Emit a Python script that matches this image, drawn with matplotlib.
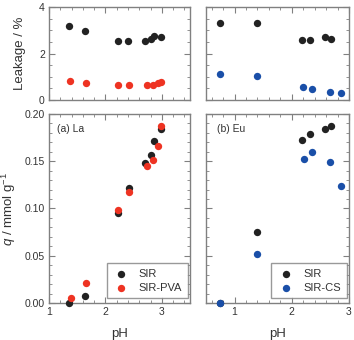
import matplotlib
matplotlib.use("Agg")
import matplotlib.pyplot as plt
from matplotlib.ticker import MultipleLocator

plt.rcParams['font.family'] = ['Liberation Sans', 'DejaVu Sans']
plt.rcParams['mathtext.fontset'] = 'custom'
plt.rcParams['mathtext.rm'] = 'Liberation Sans'
plt.rcParams['mathtext.it'] = 'Liberation Sans:italic'

# La leakage
la_sir_ph = [1.36, 1.64, 2.22, 2.40, 2.70, 2.80, 2.86, 2.99]
la_sir_leak = [3.18, 2.97, 2.54, 2.54, 2.54, 2.61, 2.77, 2.72]
la_pva_ph = [1.38, 1.65, 2.23, 2.42, 2.74, 2.85, 2.94, 2.98]
la_pva_leak = [0.83, 0.75, 0.65, 0.66, 0.65, 0.65, 0.72, 0.79]
# La q
la_sir_q_ph = [1.36, 1.64, 2.22, 2.41, 2.70, 2.80, 2.86, 2.99]
la_sir_q = [0.0, 0.0074, 0.0956, 0.122, 0.148, 0.157, 0.171, 0.184]
la_pva_q_ph = [1.39, 1.66, 2.23, 2.42, 2.74, 2.85, 2.94, 2.98]
la_pva_q = [0.005, 0.021, 0.098, 0.117, 0.145, 0.151, 0.166, 0.187]
# Eu leakage
eu_sir_ph = [0.75, 1.40, 2.17, 2.32, 2.58, 2.69]
eu_sir_leak = [3.30, 3.30, 2.58, 2.58, 2.71, 2.61]
eu_cs_ph = [0.75, 1.39, 2.20, 2.36, 2.66, 2.86]
eu_cs_leak = [1.10, 1.05, 0.55, 0.46, 0.33, 0.29]
# Eu q
eu_sir_q_ph = [0.75, 1.40, 2.18, 2.32, 2.58, 2.69]
eu_sir_q = [0.0, 0.0755, 0.172, 0.179, 0.184, 0.187]
eu_cs_q_ph = [0.75, 1.39, 2.21, 2.36, 2.66, 2.86]
eu_cs_q = [0.0, 0.052, 0.152, 0.160, 0.149, 0.124]

BLACK = '#222222'
RED = '#ee3322'
BLUE = '#1a4fa8'
SPINE = '#808080'
TXT = '#333333'

fig = plt.figure(figsize=(3.54, 3.40), dpi=100)
W, H = 354, 340
def ax_at(x0, y0, x1, y1):
    return fig.add_axes([x0 / W, 1 - y1 / H, (x1 - x0) / W, (y1 - y0) / H])

ax_tl = ax_at(49, 7, 190, 100)
ax_bl = ax_at(49, 114, 190, 303)
ax_tr = ax_at(206, 7, 349, 100)
ax_br = ax_at(206, 114, 349, 303)

ms = 28
for ax in (ax_tl, ax_bl, ax_tr, ax_br):
    for s in ax.spines.values():
        s.set_color(SPINE)
        s.set_linewidth(1.0)
    ax.tick_params(which='both', direction='in', top=True, right=True,
                   color=SPINE, labelsize=7.5, labelcolor=TXT, pad=3)
    ax.tick_params(which='major', length=4)
    ax.tick_params(which='minor', length=2)
    ax.xaxis.set_major_locator(MultipleLocator(1))
    ax.xaxis.set_minor_locator(MultipleLocator(0.2))

for ax in (ax_tl, ax_tr):
    ax.set_ylim(0, 4)
    ax.yaxis.set_major_locator(MultipleLocator(2))
    ax.yaxis.set_minor_locator(MultipleLocator(0.5))
    ax.tick_params(labelbottom=False)
for ax in (ax_bl, ax_br):
    ax.set_ylim(0, 0.20)
    ax.yaxis.set_major_locator(MultipleLocator(0.05))
    ax.yaxis.set_minor_locator(MultipleLocator(0.01))
for ax in (ax_tl, ax_bl):
    ax.set_xlim(1, 3.5)
for ax in (ax_tr, ax_br):
    ax.set_xlim(0.5, 3)
    ax.tick_params(labelleft=False)

ax_tl.yaxis.set_major_formatter(matplotlib.ticker.FormatStrFormatter('%d'))
ax_bl.yaxis.set_major_formatter(matplotlib.ticker.FormatStrFormatter('%.2f'))

ax_tl.scatter(la_sir_ph, la_sir_leak, s=ms, color=BLACK, zorder=3, clip_on=False, linewidths=0)
ax_tl.scatter(la_pva_ph, la_pva_leak, s=ms, color=RED, zorder=3, clip_on=False, linewidths=0)
ax_bl.scatter(la_sir_q_ph, la_sir_q, s=ms, color=BLACK, zorder=3, clip_on=False, linewidths=0, label='SIR')
ax_bl.scatter(la_pva_q_ph, la_pva_q, s=ms, color=RED, zorder=3, clip_on=False, linewidths=0, label='SIR-PVA')
ax_tr.scatter(eu_sir_ph, eu_sir_leak, s=ms, color=BLACK, zorder=3, clip_on=False, linewidths=0)
ax_tr.scatter(eu_cs_ph, eu_cs_leak, s=ms, color=BLUE, zorder=3, clip_on=False, linewidths=0)
ax_br.scatter(eu_sir_q_ph, eu_sir_q, s=ms, color=BLACK, zorder=3, clip_on=False, linewidths=0, label='SIR')
ax_br.scatter(eu_cs_q_ph, eu_cs_q, s=ms, color=BLUE, zorder=3, clip_on=False, linewidths=0, label='SIR-CS')

for ax in (ax_bl, ax_br):
    leg = ax.legend(loc='lower right', fontsize=8, frameon=True, fancybox=False,
                    edgecolor=SPINE, handletextpad=0.8, borderpad=0.5,
                    labelspacing=0.35, handlelength=1.6, scatterpoints=1,
                    bbox_to_anchor=(0.985, 0.025), borderaxespad=0.0)
    leg.get_frame().set_linewidth(1.0)
    for t in leg.get_texts():
        t.set_color(TXT)

ax_bl.text(0.06, 0.92, '(a) La', transform=ax_bl.transAxes, fontsize=7.5,
           color=TXT, va='center')
ax_br.text(0.08, 0.92, '(b) Eu', transform=ax_br.transAxes, fontsize=7.5,
           color=TXT, va='center')

ax_tl.set_ylabel('Leakage / %', fontsize=9.5, color=TXT, labelpad=9)
ax_bl.set_ylabel(r'$q$ / mmol g$^{-1}$', fontsize=9.5, color=TXT, labelpad=5)
ax_bl.set_xlabel('pH', fontsize=9.5, color=TXT, labelpad=8)
ax_br.set_xlabel('pH', fontsize=9.5, color=TXT, labelpad=8)

fig.savefig('out.png', dpi=100)
